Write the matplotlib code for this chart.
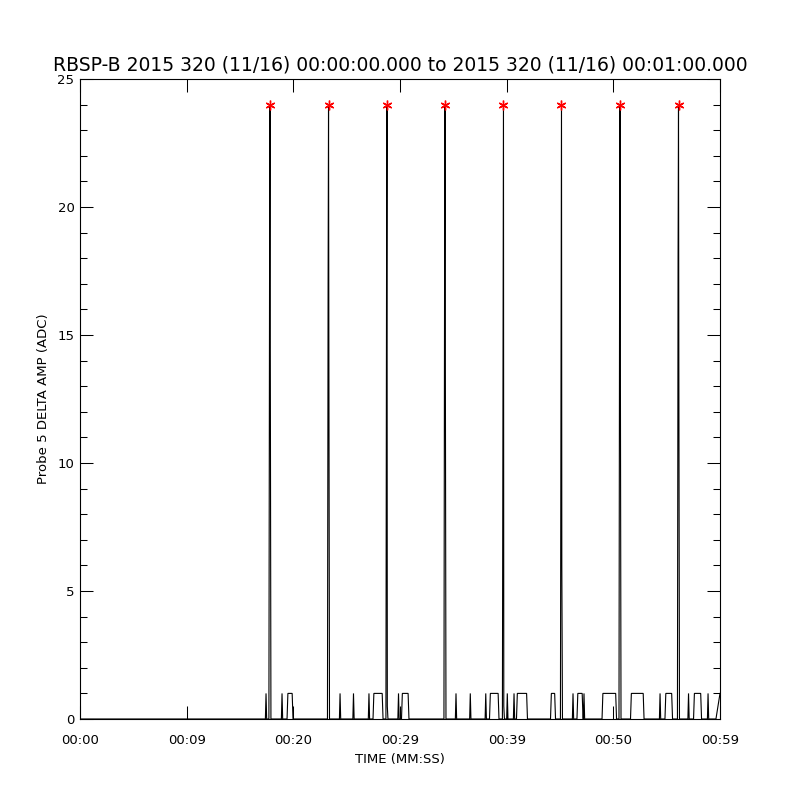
import matplotlib
matplotlib.use("Agg")
import matplotlib.pyplot as plt
from matplotlib.ticker import MultipleLocator, FixedLocator

# ---- data (seconds, ADC) ----
spike_times = [17.81, 23.30, 28.78, 34.22, 39.70, 45.14, 50.63, 56.11]
spike_pre = [17.0, 17.0, 17.5, 17.5, 14.5, 14.0, 18.0, 18.0]
spike_post = [14.5, 14.5, 0.5, 14.5, 0.5, 6.0, 14.0, 14.0]
spike_peak = [24, 24, 24, 24, 24, 24, 24, 24]

pulse_times = [17.44, 18.94, 24.38, 25.64, 27.09, 29.86, 35.25, 36.59,
               38.04, 40.06, 40.69, 46.22, 47.25, 54.38, 57.05, 58.88]
box_starts = [19.41, 27.47, 30.14, 38.39, 40.92, 44.11, 46.59, 48.94,
              51.61, 54.84, 57.52, 59.62]
box_ends = [19.97, 28.41, 30.84, 39.28, 41.95, 44.58, 47.16, 50.30,
            52.88, 55.55, 58.27, 60.0]

xtick_vals = [0, 10, 20, 30, 40, 50, 60]
xtick_labels = ["00:00", "00:09", "00:20", "00:29", "00:39", "00:50", "00:59"]

title = "RBSP-B 2015 320 (11/16) 00:00:00.000 to 2015 320 (11/16) 00:01:00.000"

# ---- build the waveform polyline from the events ----
events = []
for t, a, p, b in zip(spike_times, spike_pre, spike_peak, spike_post):
    events.append((t - 0.10, [(t - 0.10, 0.0), (t - 0.04, a), (t, p), (t + 0.03, b), (t + 0.09, 0.0)]))
for t in pulse_times:
    events.append((t - 0.06, [(t - 0.06, 0.0), (t, 1.0), (t + 0.06, 0.0)]))
for s, e in zip(box_starts, box_ends):
    if e >= 60.0:
        events.append((s, [(s, 0.0), (e, 1.0)]))
    else:
        events.append((s, [(s, 0.0), (s + 0.08, 1.0), (e - 0.08, 1.0), (e, 0.0)]))
events.sort(key=lambda ev: ev[0])

xs, ys = [0.0], [0.0]
for _, pts in events:
    for (x, y) in pts:
        xs.append(x)
        ys.append(y)
if xs[-1] < 60:
    xs.append(60.0)
    ys.append(0.0)

# ---- figure ----
plt.rcParams['font.family'] = ['DejaVu Sans']
fig = plt.figure(figsize=(8, 8), dpi=100)
ax = fig.add_axes([0.1, 0.10125, 0.8, 0.8])

ax.plot(xs, ys, color="black", linewidth=0.8, solid_joinstyle="miter")
ax.plot(spike_times, spike_peak, linestyle="none", marker=(6, 2, 0),
        markersize=7, markeredgecolor="red", markeredgewidth=1.0, color="red")

ax.set_xlim(0, 60)
ax.set_ylim(0, 25)

ax.xaxis.set_major_locator(FixedLocator(xtick_vals))
ax.set_xticklabels(xtick_labels)
ax.yaxis.set_major_locator(MultipleLocator(5))
ax.yaxis.set_minor_locator(MultipleLocator(1))

ax.tick_params(axis="both", which="major", direction="in", length=9.5, width=0.75,
               top=True, right=True, labelsize=9.5, color="black")
ax.tick_params(axis="y", which="minor", direction="in", length=5, width=0.75,
               left=True, right=True)
ax.tick_params(axis="x", which="major", pad=11)
ax.tick_params(axis="y", which="major", pad=4)

for sp in ax.spines.values():
    sp.set_linewidth(0.8)

ax.set_title(title, fontsize=13.5, pad=6)
ax.set_xlabel("TIME (MM:SS)", fontsize=9.5, labelpad=4)
ax.set_ylabel("Probe 5 DELTA AMP (ADC)", fontsize=9.5, labelpad=5)

fig.savefig("out.png", dpi=100, facecolor="white")
